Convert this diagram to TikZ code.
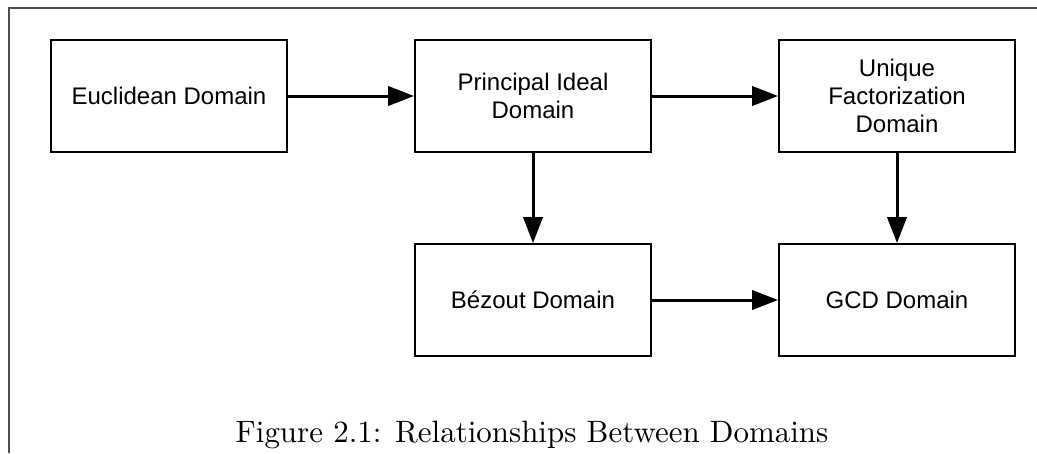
\documentclass[tikz,border=0pt]{standalone}
\usepackage{fontspec}
\newfontfamily\boxfont{Liberation Sans}
\newfontfamily\capfont{lmroman10-regular}[Extension=.otf]
\usetikzlibrary{arrows.meta}
\begin{document}
\begin{tikzpicture}[x=0.75pt,y=-0.75pt,
  dombox/.style={draw=black,line width=1.5pt,rectangle,minimum width=177pt,minimum height=84pt,
    inner sep=2pt,align=center,font=\boxfont\fontsize{18}{21}\selectfont},
  conn/.style={line width=2.25pt,-{Triangle[length=19.5pt,width=14.5pt]}},
  frameline/.style={draw=black!70,line width=0.8pt}]
\useasboundingbox (0,0) rectangle (1037,453);
\coordinate (fa) at (1037,8);
\coordinate (fb) at (9,8);
\coordinate (fc) at (9,453);
\draw[frameline] (fa) -- (fb) -- (fc);
\node[dombox] (ed) at (169,96) {Euclidean Domain};
\node[dombox] (pid) at (533,96) {Principal Ideal\\Domain};
\node[dombox] (ufd) at (897,96) {Unique\\Factorization\\Domain};
\node[dombox] (bd) at (533,300) {Bézout Domain};
\node[dombox] (gcd) at (897,300) {GCD Domain};
\draw[conn] (ed.east) -- (pid.west);
\draw[conn] (pid.east) -- (ufd.west);
\draw[conn] (pid.south) -- (bd.north);
\draw[conn] (ufd.south) -- (gcd.north);
\draw[conn] (bd.east) -- (gcd.west);
\node[anchor=base,inner sep=0pt,font=\capfont\fontsize{23.2}{28}\selectfont] (cap) at (532,442) {Figure 2.1: Relationships Between Domains};
\end{tikzpicture}
\end{document}
